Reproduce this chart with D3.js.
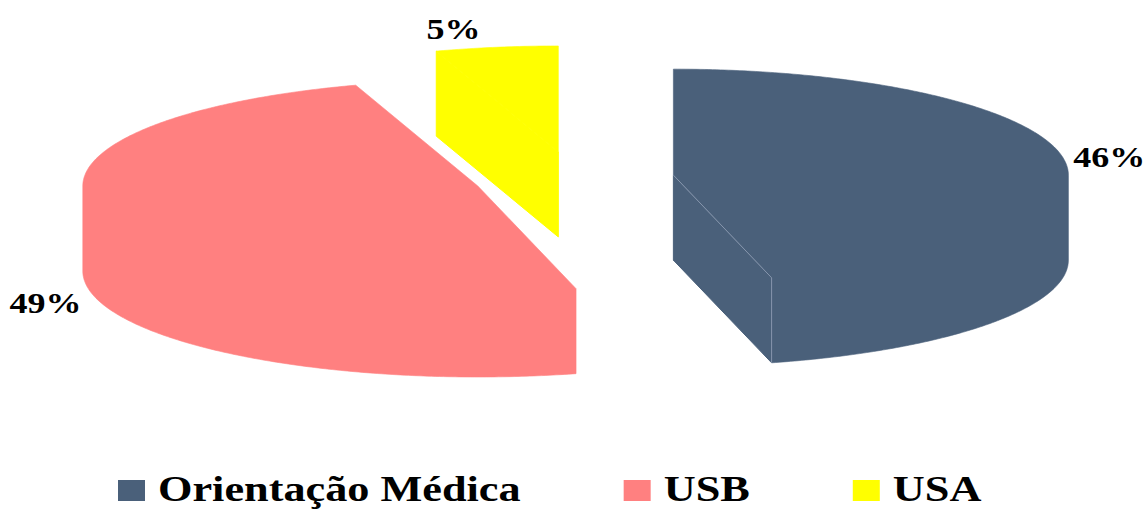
<!DOCTYPE html>
<html>
<head>
<meta charset="utf-8">
<script src="https://cdn.jsdelivr.net/npm/d3@7"></script>
<style>
  body { margin: 0; background: #fff; }
  svg { display: block; }
</style>
</head>
<body>
<svg id="chart" width="1147" height="509"></svg>
<script>
// Share of responses per category (percent)
const categories = ["Orientação Médica", "USB", "USA"];
const values = [46, 49, 5];
const colors = ["#4a607a", "#ff8080", "#ffff00"];
const labelTexts = values.map(v => v + "%");

// 3D pie geometry
const cx = 574, cy = 178.5;      // centre of the un-exploded top face
const rx = 395, ry = 106;        // top-face ellipse radii
const depth = 85;                // wall height
const explode = 0.2536;          // radial offset of each slice (fraction of radius)
const edgeColor = "#8e9db3";
const fontFamily = "'Liberation Serif', 'Times New Roman', serif";
const stretch = 1.2;             // horizontal stretch of the lettering

// Label placement relative to the rim point at each slice's mid-angle
const labelPlacement = [
  { dx: 8,   dy: 5,  anchor: "start", onBase: false },
  { dx: -17, dy: 12, anchor: "end",   onBase: true  },
  { dx: -16, dy: -8, anchor: "end",   onBase: false }
];

const svg = d3.select("#chart");
const arcs = d3.pie().sort(null).value(d => d).startAngle(0).endAngle(2 * Math.PI)(values);

function pt(c, a, dz = 0) {
  return [c[0] + rx * Math.sin(a), c[1] - ry * Math.cos(a) + dz];
}
function arcPts(c, a0, a1, dz = 0) {
  const n = Math.max(2, Math.ceil(Math.abs(a1 - a0) / 0.01));
  return d3.range(n + 1).map(i => pt(c, a0 + (a1 - a0) * i / n, dz));
}
const poly = d3.line().curve(d3.curveLinearClosed);

const slices = arcs.map((d, i) => {
  const mid = (d.startAngle + d.endAngle) / 2;
  const c = [cx + explode * rx * Math.sin(mid), cy - explode * ry * Math.cos(mid)];
  return { ...d, i, mid, c };
});

const g = svg.append("g");

slices.forEach(s => {
  const { c, startAngle: a0, endAngle: a1 } = s;
  const col = colors[s.i];
  const sg = g.append("g").attr("class", "slice");
  const base = [c[0], c[1] + depth];

  // radial side walls that face the viewer
  if (Math.sin(a1) > 1e-6) {
    sg.append("path").attr("d", poly([c, pt(c, a1), pt(c, a1, depth), base]))
      .attr("fill", col).attr("stroke", col).attr("stroke-width", 1);
  }
  if (Math.sin(a0) < -1e-6) {
    sg.append("path").attr("d", poly([c, pt(c, a0), pt(c, a0, depth), base]))
      .attr("fill", col).attr("stroke", col).attr("stroke-width", 1);
  }

  // top face together with the front part of the outer wall, as one outline
  const lo = Math.max(a0, Math.PI / 2), hi = Math.min(a1, 3 * Math.PI / 2);
  let outline;
  if (hi > lo) {
    outline = [c]
      .concat(arcPts(c, a0, lo))
      .concat(arcPts(c, lo, hi, depth))
      .concat(arcPts(c, hi, a1));
  } else {
    outline = [c].concat(arcPts(c, a0, a1));
  }
  sg.append("path").attr("d", poly(outline))
    .attr("fill", col).attr("stroke", col).attr("stroke-width", 0.6);

  // highlight edges where the visible end wall meets the top and outer wall
  if (Math.sin(a1) > 1e-6) {
    sg.append("path").attr("d", d3.line()([c, pt(c, a1), pt(c, a1, depth)]))
      .attr("fill", "none").attr("stroke", edgeColor).attr("stroke-width", 0.9);
  }
});

// percentage labels
slices.forEach(s => {
  const p = labelPlacement[s.i];
  const anchorPt = pt(s.c, s.mid, p.onBase ? depth : 0);
  svg.append("text")
    .attr("transform", `translate(${anchorPt[0] + p.dx},${anchorPt[1] + p.dy}) scale(${stretch},1)`)
    .attr("text-anchor", p.anchor)
    .attr("font-family", fontFamily)
    .attr("font-weight", "bold")
    .attr("font-size", 30)
    .attr("fill", "#000")
    .text(labelTexts[s.i]);
});

// legend
const legend = svg.append("g").attr("class", "legend");
const swW = 27, swH = 21, swGap = 13, itemGap = 103, legendStretch = 1.23;
let lx = 118;
const ly = 480;
categories.forEach((name, i) => {
  legend.append("rect")
    .attr("x", lx).attr("y", ly).attr("width", swW).attr("height", swH)
    .attr("fill", colors[i]);
  const t = legend.append("text")
    .attr("transform", `translate(${lx + swW + swGap},${ly + 21}) scale(${legendStretch},1)`)
    .attr("font-family", fontFamily)
    .attr("font-weight", "bold")
    .attr("font-size", 36)
    .attr("fill", "#000")
    .text(name);
  lx += swW + swGap + t.node().getComputedTextLength() * legendStretch + itemGap;
});
</script>
</body>
</html>
